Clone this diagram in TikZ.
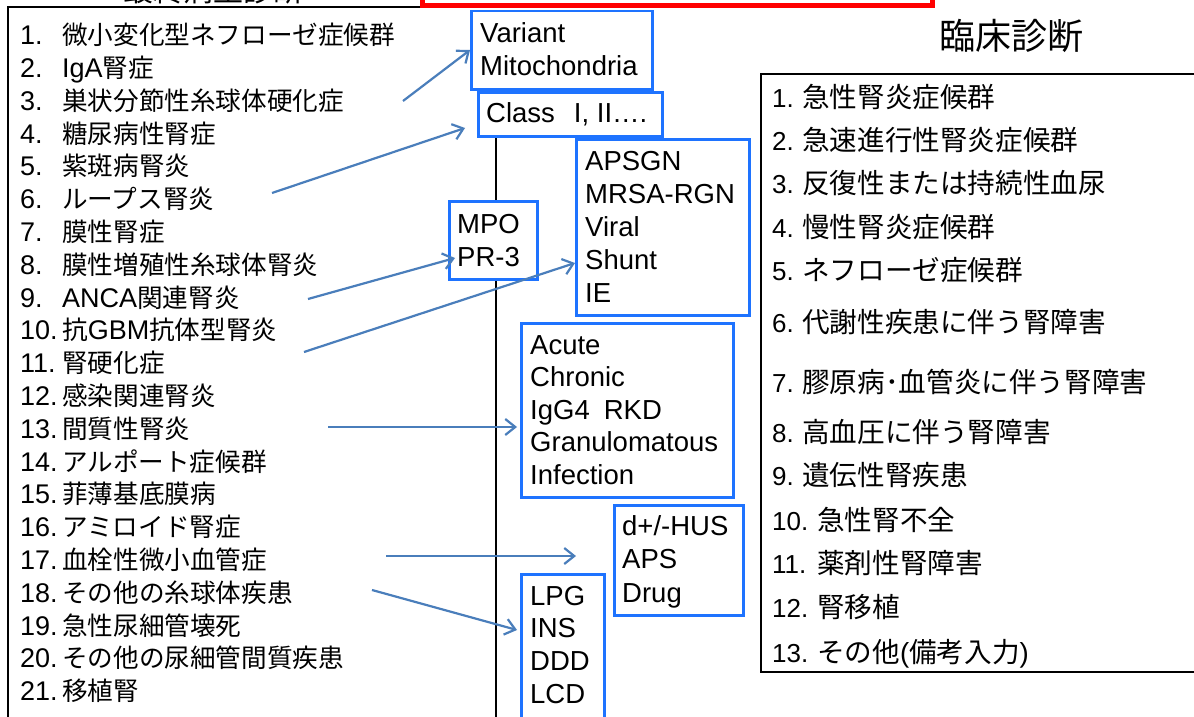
\documentclass[tikz,border=0pt]{standalone}
\usepackage{fontspec}
\setmainfont{Liberation Sans}
\newfontfamily\jpf{Noto Sans CJK JP}
\usetikzlibrary{arrows.meta}
\definecolor{boxblue}{RGB}{30,115,255}
\definecolor{arrowc}{RGB}{74,126,187}
\definecolor{redbox}{RGB}{255,0,0}
\newcommand{\jl}[1]{{\jpf\fontsize{25.6}{25.6}\selectfont #1}}
\newcommand{\jr}[1]{{\jpf\fontsize{27.6}{27.6}\selectfont #1}}
\tikzset{
  bbox/.style={draw=boxblue, line width=2.5pt, fill=white, rectangle, inner sep=0pt, anchor=north west},
  btxt/.style={anchor=base west, inner sep=0pt, font=\fontsize{27.5}{27.5}\selectfont},
  ltxt/.style={anchor=base west, inner sep=0pt, font=\fontsize{27}{27}\selectfont},
  rtxt/.style={anchor=base west, inner sep=0pt, font=\fontsize{26}{26}\selectfont},
  arr/.style={draw=arrowc, line width=2.2pt, -{Straight Barb[length=10pt,width=16pt]}},
  blk/.style={draw=black, line width=2.2pt}
}
\begin{document}
\begin{tikzpicture}[x=1pt,y=-1pt]
\useasboundingbox (0,0) rectangle (1194,717);
\clip (0,0) rectangle (1194,717);
\fill[white] (0,0) rectangle (1194,717);

% title (cut off at top, as in the reference)
\node[anchor=base, inner sep=0pt, font=\jpf\fontsize{30}{30}\selectfont] (ttl) at (213,1.5) {最終病型診断};

% left frame
\draw[blk] (430,7) -- (8,7) -- (8,730);
\draw[blk] (496,88) -- (496,730);

% red box
\draw[draw=redbox, line width=5pt, fill=white] (422,-30) rectangle (932,6);

% left list
\foreach \n/\t [count=\i] in {
 1./{\jl{微小変化型ネフローゼ症候群}},
 2./{IgA\jl{腎症}},
 3./{\jl{巣状分節性糸球体硬化症}},
 4./{\jl{糖尿病性腎症}},
 5./{\jl{紫斑病腎炎}},
 6./{\jl{ループス腎炎}},
 7./{\jl{膜性腎症}},
 8./{\jl{膜性増殖性糸球体腎炎}},
 9./{ANCA\jl{関連腎炎}},
 10./{\jl{抗}GBM\jl{抗体型腎炎}},
 11./{\jl{腎硬化症}},
 12./{\jl{感染関連腎炎}},
 13./{\jl{間質性腎炎}},
 14./{\jl{アルポート症候群}},
 15./{\jl{菲薄基底膜病}},
 16./{\jl{アミロイド腎症}},
 17./{\jl{血栓性微小血管症}},
 18./{\jl{その他の糸球体疾患}},
 19./{\jl{急性尿細管壊死}},
 20./{\jl{その他の尿細管間質疾患}},
 21./{\jl{移植腎}}}{
  \node[ltxt] (ln\i) at (20,{35+(\i-1)*32.8+9.6}) {\n};
  \node[ltxt] (lt\i) at (62,{35+(\i-1)*32.8+9.6}) {\t};
}

% right title and box
\node[inner sep=0pt, font=\jpf\fontsize{36}{36}\selectfont] (rttl) at (1011,36) {臨床診断};
\draw[blk, line width=2.5pt] (1210,74) -- (761,74) -- (761,672) -- (1210,672);

\foreach \n/\t/\y/\x [count=\i] in {
 1./{急性腎炎症候群}/97/802,
 2./{急速進行性腎炎症候群}/140/802,
 3./{反復性または持続性血尿}/183/802,
 4./{慢性腎炎症候群}/227/802,
 5./{ネフローゼ症候群}/270/802,
 6./{代謝性疾患に伴う腎障害}/322/802,
 7./{膠原病･血管炎に伴う腎障害}/382/802,
 8./{高血圧に伴う腎障害}/432/802,
 9./{遺伝性腎疾患}/475/802,
 10./{急性腎不全}/520/817,
 11./{薬剤性腎障害}/563/817,
 12./{腎移植}/607/817,
 13./{その他\fontspec{Liberation Sans}(\jr{備考入力}\fontspec{Liberation Sans})}/652/817}{
  \node[rtxt] (rn\i) at (772,\y+10) {\n};
  \node[rtxt] (rt\i) at (\x,\y+10) {\jr{\t}};
}

% blue boxes
\node[bbox, minimum width=181pt, minimum height=78pt] (bvar) at (470,10) {};
\node[bbox, minimum width=184pt, minimum height=44pt] (bcls) at (477,91) {};
\node[bbox, minimum width=173pt, minimum height=176pt] (bap) at (575,138) {};
\node[bbox, minimum width=88pt, minimum height=78pt] (bmpo) at (448,200) {};
\node[bbox, minimum width=212pt, minimum height=174pt] (bac) at (520,322) {};
\node[bbox, minimum width=129pt, minimum height=110pt] (bhus) at (613,504) {};
\node[bbox, minimum width=83pt, minimum height=145pt] (blpg) at (520,573) {};

% box texts
\node[btxt] (tv1) at (480,33+9.7) {Variant};
\node[btxt] (tv2) at (480,66+9.7) {Mitochondria};
\node[btxt] (tc1) at (486,113+9.7) {Class\hspace{19pt}I, II….};
\node[btxt] (ta1) at (585,161+9.7) {APSGN};
\node[btxt] (ta2) at (585,194+9.7) {MRSA-RGN};
\node[btxt] (ta3) at (585,227+9.7) {Viral};
\node[btxt] (ta4) at (585,260+9.7) {Shunt};
\node[btxt] (ta5) at (585,293+9.7) {IE};
\node[btxt] (tm1) at (457,224+9.7) {MPO};
\node[btxt] (tm2) at (457,257+9.7) {PR-3};
\node[btxt] (tq1) at (530,345+9.7) {Acute};
\node[btxt] (tq2) at (530,377+9.7) {Chronic};
\node[btxt] (tq3) at (530,410+9.7) {IgG4\hspace{14pt}RKD};
\node[btxt] (tq4) at (530,442+9.7) {Granulomatous};
\node[btxt] (tq5) at (530,475+9.7) {Infection};
\node[btxt] (th1) at (622,526+9.7) {d+/-HUS};
\node[btxt] (th2) at (622,559+9.7) {APS};
\node[btxt] (th3) at (622,593+9.7) {Drug};
\node[btxt] (tl1) at (530,596+9.7) {LPG};
\node[btxt] (tl2) at (530,628+9.7) {INS};
\node[btxt] (tl3) at (530,661+9.7) {DDD};
\node[btxt] (tl4) at (530,694+9.7) {LCD};

% arrow end points
\coordinate (a1s) at (403,101); \coordinate (a1e) at (470,50);
\coordinate (a2s) at (272,193); \coordinate (a2e) at (465,128);
\coordinate (a3s) at (308,299); \coordinate (a3e) at (455,258);
\coordinate (a4s) at (304,352); \coordinate (a4e) at (575,263);
\coordinate (a5s) at (328,427); \coordinate (a5e) at (517,427);
\coordinate (a6s) at (386,556); \coordinate (a6e) at (576,556);
\coordinate (a7s) at (372,590); \coordinate (a7e) at (517,630);

\draw[arr] (a1s) -- (a1e);
\draw[arr] (a2s) -- (a2e);
\draw[arr] (a3s) -- (a3e);
\draw[arr] (a4s) -- (a4e);
\draw[arr] (a5s) -- (a5e);
\draw[arr] (a6s) -- (a6e);
\draw[arr] (a7s) -- (a7e);
\end{tikzpicture}
\end{document}
